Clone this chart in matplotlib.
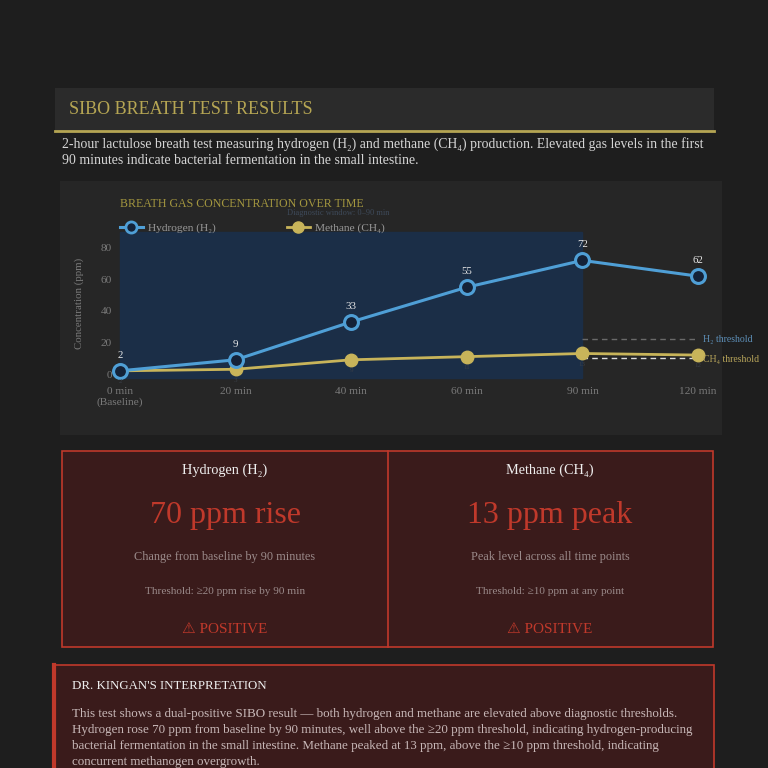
import matplotlib
matplotlib.use("Agg")
import matplotlib.pyplot as plt
from matplotlib.patches import Rectangle
from matplotlib.lines import Line2D

# ---------------- data ----------------
time_labels = ["0 min\n(Baseline)", "20 min", "40 min", "60 min", "90 min", "120 min"]
hydrogen = [2, 9, 33, 55, 72, 62]
methane = [2, 3, 9, 11, 13, 12]
y_ticks = [0, 20, 40, 60, 80]
h2_threshold = 22      # baseline + 20 ppm
ch4_threshold = 10
window_end_label = "90 min"

SERIF = ["Liberation Serif", "DejaVu Serif"]
plt.rcParams["font.family"] = SERIF

BG = "#1e1e1e"
CARD = "#262626"
GOLD = "#b5a553"
H2C = "#4f9fd6"
CH4C = "#c8b45a"
RED = "#c0392b"
MAROON = "#3a1b1b"

fig = plt.figure(figsize=(7.68, 7.68), dpi=100, facecolor=BG)

# overlay axes in pixel coordinates for layout elements
ov = fig.add_axes([0, 0, 1, 1])
ov.set_xlim(0, 768)
ov.set_ylim(768, 0)
ov.axis("off")
ov.set_zorder(0)

# header bar
ov.add_patch(Rectangle((55, 88), 659, 43, facecolor="#2b2b2b", edgecolor="none"))
ov.plot([55, 714], [131, 131], color=GOLD, lw=2)
ov.text(69, 110, "SIBO BREATH TEST RESULTS", color=GOLD, fontsize=13, va="center", ha="left")
ov.text(62, 144, "2-hour lactulose breath test measuring hydrogen (H\u2082) and methane (CH\u2084) production. "
        "Elevated gas levels in the first", color="#d6d6d6", fontsize=9.9, va="center", ha="left")
ov.text(62, 161, "90 minutes indicate bacterial fermentation in the small intestine.",
        color="#d6d6d6", fontsize=9.9, va="center", ha="left")

# chart card
ov.add_patch(Rectangle((60, 181), 662, 254, facecolor=CARD, edgecolor="none"))
ov.text(120, 204, "BREATH GAS CONCENTRATION OVER TIME", color="#a3963f", fontsize=8.6, va="center", ha="left")
ov.text(287, 213, "Diagnostic window: 0\u201390 min", color="#3e4a5a", fontsize=6, va="center", ha="left")

# result cards
ov.add_patch(Rectangle((62, 451), 651, 196, facecolor=MAROON, edgecolor=RED, lw=1.2))
ov.plot([388, 388], [451, 647], color=RED, lw=1.2)
cards = [
    (225, "Hydrogen (H\u2082)", "70 ppm rise", "Change from baseline by 90 minutes", "Threshold: \u226520 ppm rise by 90 min"),
    (550, "Methane (CH\u2084)", "13 ppm peak", "Peak level across all time points", "Threshold: \u226510 ppm at any point"),
]
for cx, title, big, sub, thr in cards:
    ov.text(cx, 470, title, color="#eeeeee", fontsize=10.3, ha="center", va="center")
    ov.text(cx, 516, big, color="#c0392b", fontsize=23, ha="center", va="center")
    ov.text(cx, 557, sub, color="#9a8a8a", fontsize=8.8, ha="center", va="center")
    ov.text(cx, 592, thr, color="#9a8a8a", fontsize=8.1, ha="center", va="center")
    ov.text(cx, 629, "\u26a0 POSITIVE", color="#c0392b", fontsize=11, ha="center", va="center",
            family=["Liberation Serif", "DejaVu Sans"])

# interpretation box
ov.add_patch(Rectangle((53, 665), 661, 110, facecolor=MAROON, edgecolor=RED, lw=1.2))
ov.plot([54, 54], [665, 768], color=RED, lw=3)
ov.text(72, 686, "DR. KINGAN'S INTERPRETATION", color="#eeeeee", fontsize=9.3, ha="left", va="center")
interp = [
    "This test shows a dual-positive SIBO result \u2014 both hydrogen and methane are elevated above diagnostic thresholds.",
    "Hydrogen rose 70 ppm from baseline by 90 minutes, well above the \u226520 ppm threshold, indicating hydrogen-producing",
    "bacterial fermentation in the small intestine. Methane peaked at 13 ppm, above the \u226510 ppm threshold, indicating",
    "concurrent methanogen overgrowth.",
]
for i, line in enumerate(interp):
    ov.text(72, 714 + 16 * i, line, color="#c8b8b8", fontsize=9.4, ha="left", va="center")

# ---------------- chart axes (categorical x) ----------------
L, R, T, B = 120, 698, 232, 374
ax = fig.add_axes([L / 768, (768 - B) / 768, (R - L) / 768, (B - T) / 768])
ax.set_zorder(2)
ax.patch.set_alpha(0)
xs = list(range(len(time_labels)))
win = time_labels.index(window_end_label)
ax.set_xlim(0, xs[-1])
ax.set_ylim(0, 90)

ax.axvspan(0, win, ymin=-0.03, ymax=1, color="#1b2e47", zorder=0, clip_on=False)

ax.plot(xs, methane, color=CH4C, lw=2, marker="o", ms=9, mfc=CH4C, mec=CH4C,
        zorder=3, clip_on=False)
ax.plot(xs, hydrogen, color=H2C, lw=2.2, marker="o", ms=10, mfc="#142238", mec=H2C,
        mew=2.2, zorder=4, clip_on=False)

for x, y in zip(xs, hydrogen):
    ax.annotate(str(y), (x, y), xytext=(0, 8), textcoords="offset points", ha="center",
                va="bottom", color="#e8e8e8", fontsize=7.8, zorder=5)
for x, y in zip(xs, methane):
    ax.annotate(str(y), (x, y), xytext=(0, -6), textcoords="offset points", ha="center",
                va="top", color="#3a3f48", fontsize=5, zorder=5)

# thresholds (after diagnostic window)
ax.plot([win, xs[-1]], [h2_threshold, h2_threshold], color="#6a6a6a", lw=1, ls=(0, (4, 3)), zorder=2, clip_on=False)
ax.plot([win, xs[-1]], [ch4_threshold, ch4_threshold], color="#dddddd", lw=1, ls=(0, (4, 3)), zorder=2, clip_on=False)
ax.text(xs[-1] + 0.04, h2_threshold, "H\u2082 threshold", color="#5d8fb8", fontsize=7, va="center", ha="left")
ax.text(xs[-1] + 0.04, ch4_threshold - 1, "CH\u2084 threshold", color="#b8a55a", fontsize=7, va="center", ha="left")

ax.set_xticks(xs)
ax.set_xticklabels(time_labels)
ax.set_yticks(y_ticks)
ax.tick_params(axis="both", length=0, colors="#7a7a7a", labelsize=8.2)
ax.tick_params(axis="x", pad=9)
ax.tick_params(axis="y", pad=6)
for s in ax.spines.values():
    s.set_visible(False)
ax.set_ylabel("Concentration (ppm)", color="#7a7a7a", fontsize=7.8, labelpad=12)

handles = [
    Line2D([], [], color=H2C, lw=2.2, marker="o", ms=8, mfc="#142238", mec=H2C, mew=2),
    Line2D([], [], color=CH4C, lw=2, marker="o", ms=8, mfc=CH4C, mec=CH4C),
]
ax.legend(handles, ["Hydrogen (H\u2082)", "Methane (CH\u2084)"], loc="center left",
          bbox_to_anchor=(0.0, 1.03), ncol=2, frameon=False, fontsize=8.2,
          labelcolor="#9a9a9a", columnspacing=6.2, handlelength=2.0, handletextpad=0.5,
          borderaxespad=0.0, borderpad=0.0)

fig.savefig("out.png", dpi=100, facecolor=BG)
